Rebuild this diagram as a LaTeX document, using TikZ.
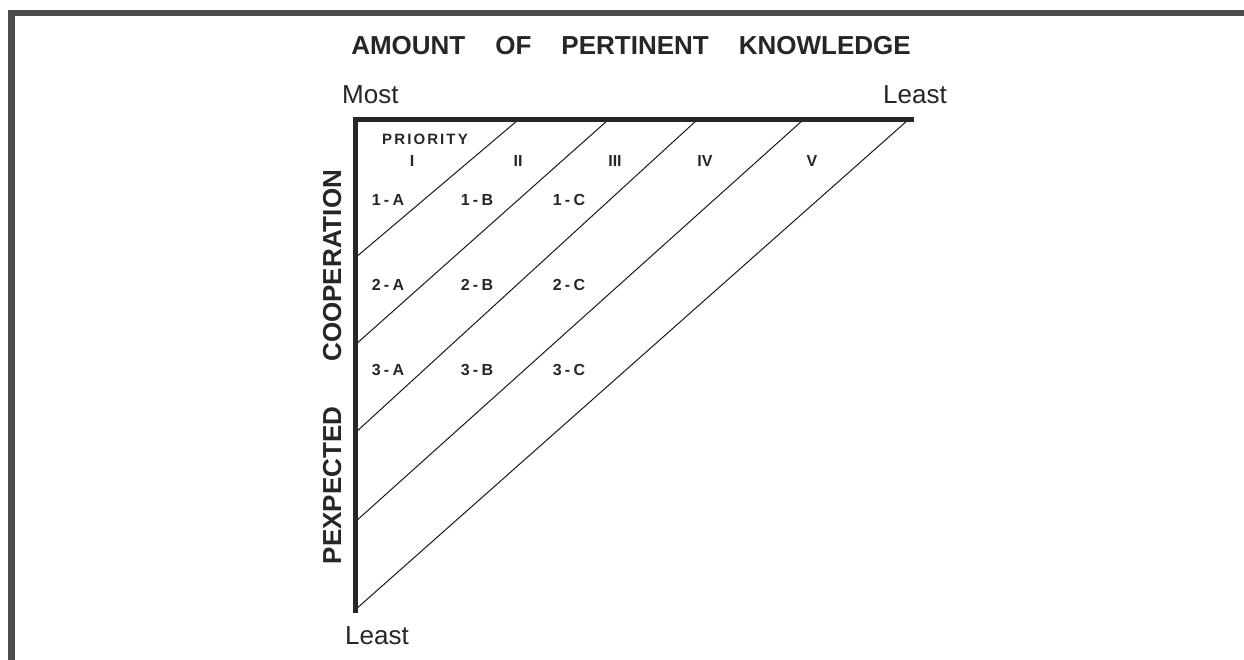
\documentclass[tikz,border=0pt]{standalone}
\usepackage{fontspec}
\setmainfont{Liberation Sans}
\begin{document}
\begin{tikzpicture}[x=1pt,y=-1pt]

\tikzset{frame/.style = {line width=6.5pt, black!70, line join=miter}}
\tikzset{axis/.style = {line width=5pt, black!85, line cap=rect, line join=miter}}
\tikzset{diag/.style = {line width=1pt, black!90}}
\tikzset{heading/.style = {font=\fontsize{26}{30}\selectfont\bfseries, text=black!85, inner sep=0pt}}
\tikzset{scalelabel/.style = {font=\fontsize{26}{30}\selectfont, text=black!85, inner sep=0pt}}
\tikzset{priority/.style = {font=\fontsize{15}{17}\selectfont\bfseries\addfontfeatures{LetterSpace=14}, text=black!85, inner sep=0pt, anchor=base}}
\tikzset{numeral/.style = {font=\fontsize{16}{18}\selectfont\bfseries, text=black!85, inner sep=0pt, anchor=base}}
\tikzset{cell/.style = {font=\fontsize{16}{18}\selectfont\bfseries\addfontfeatures{LetterSpace=20}, text=black!85, inner sep=0pt, anchor=base}}

\fill[white] (0,0) rectangle (1244,660);
\useasboundingbox (0,0) rectangle (1244,660);

% frame
\draw[frame] (11.5,660) -- (11.5,13) -- (1244,13);

% corners of the triangle
\coordinate (corner) at (355,120);
\coordinate (topend) at (911,120);
\coordinate (bottom) at (355,610);

% ends of the diagonals
\coordinate (t1) at (518,120);
\coordinate (t2) at (608,120);
\coordinate (t3) at (697,120);
\coordinate (t4) at (803,120);
\coordinate (t5) at (908,120);
\coordinate (l1) at (355,258);
\coordinate (l2) at (355,345);
\coordinate (l3) at (355,433);
\coordinate (l4) at (355,522);
\coordinate (l5) at (355,610);

%diagonals
\draw[diag] (t1) -- (l1);
\draw[diag] (t2) -- (l2);
\draw[diag] (t3) -- (l3);
\draw[diag] (t4) -- (l4);
\draw[diag] (t5) -- (l5);

%axes
\draw[axis] (topend) -- (corner) -- (bottom);

% titles
\node[heading, anchor=base] (title) at (631,55) {AMOUNT\hspace{30pt}OF\hspace{30pt}PERTINENT\hspace{30pt}KNOWLEDGE};
\node[scalelabel, anchor=base west] (most) at (342,104) {Most};
\node[scalelabel, anchor=base east] (leasttop) at (947,104) {Least};
\node[scalelabel, anchor=base west] (leastbottom) at (345,644) {Least};
\node[heading, rotate=90, anchor=base] (coop) at (341,367) {PEXPECTED\hspace{45pt}COOPERATION};

% priorities
\node[priority] (prio) at (425,145) {PRIORITY};
\node[numeral] (p1) at (412,167) {I};
\node[numeral] (p2) at (518,167) {II};
\node[numeral] (p3) at (615,167) {III};
\node[numeral] (p4) at (705,167) {IV};
\node[numeral] (p5) at (812,167) {V};

% cells
\node[cell] (c1a) at (388,206) {1-A};
\node[cell] (c1b) at (477,206) {1-B};
\node[cell] (c1c) at (569,206) {1-C};
\node[cell] (c2a) at (388,290) {2-A};
\node[cell] (c2b) at (477,290) {2-B};
\node[cell] (c2c) at (569,290) {2-C};
\node[cell] (c3a) at (388,375) {3-A};
\node[cell] (c3b) at (477,375) {3-B};
\node[cell] (c3c) at (569,375) {3-C};
\end{tikzpicture}
\end{document}
